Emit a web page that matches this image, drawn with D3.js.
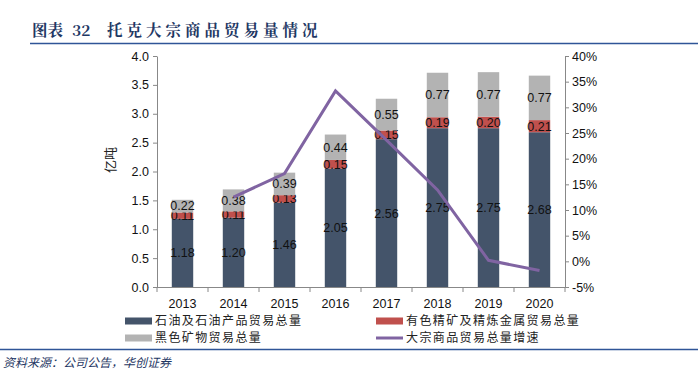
<!DOCTYPE html>
<html>
<head>
<meta charset="utf-8">
<script src="https://cdn.jsdelivr.net/npm/d3@7"></script>
<style>
  body { margin: 0; background: #fff; }
  svg text { font-family: "Liberation Sans", "Noto Sans CJK SC", sans-serif; }
</style>
</head>
<body>
<div id="chart"></div>
<script>
// data
const years = ["2013", "2014", "2015", "2016", "2017", "2018", "2019", "2020"];
const oil = [1.18, 1.20, 1.46, 2.05, 2.56, 2.75, 2.75, 2.68];
const metals = [0.11, 0.11, 0.13, 0.15, 0.15, 0.19, 0.20, 0.21];
const ferrous = [0.22, 0.38, 0.39, 0.44, 0.55, 0.77, 0.77, 0.77];
const growthYears = ["2014", "2015", "2016", "2017", "2018", "2019", "2020"];
const growth = [12.5, 17.1, 33.2, 23.6, 13.9, 0.2, -1.8];
const leftTicks = [0, 0.5, 1, 1.5, 2, 2.5, 3, 3.5, 4];
const rightTicks = [-5, 0, 5, 10, 15, 20, 25, 30, 35, 40];

const W = 698, H = 377;
const svg = d3.select("#chart").append("svg")
    .attr("width", W)
    .attr("height", H);

// title
const titleParts = [
    { t: "图表", x: 32, ls: 0 },
    { t: "32", x: 72, ls: 0 },
    { t: "托克大宗商品贸易量情况", x: 107, ls: 4 }
];
titleParts.forEach(p => {
    svg.append("text")
        .attr("x", p.x).attr("y", 36)
        .attr("fill", "#1f3864")
        .attr("font-size", "15.5px")
        .attr("font-weight", "bold")
        .attr("letter-spacing", p.ls)
        .style("font-family", "'Noto Serif CJK SC', 'Liberation Serif', 'Noto Sans CJK SC', serif")
        .text(p.t);
});
svg.append("line")
    .attr("x1", 30).attr("x2", W).attr("y1", 43.5).attr("y2", 43.5)
    .attr("stroke", "#2f5597").attr("stroke-width", 1.5);

const x0 = 157, x1 = 565, yTop = 56, yBot = 287;

const xScale = d3.scaleBand().domain(years).range([x0, x1]).paddingInner(0.58).paddingOuter(0.29);
const yScale = d3.scaleLinear().domain([0, 4]).range([yBot, yTop]);
const yRight = d3.scaleLinear().domain([-5, 40]).range([yBot, yTop]);
const xCenter = d => xScale(d) + xScale.bandwidth() / 2;

// stacked bars
const rows = years.map((y, i) => ({ year: y, oil: oil[i], metals: metals[i], ferrous: ferrous[i] }));
const keys = ["oil", "metals", "ferrous"];
const colors = { oil: "#44546a", metals: "#c0504d", ferrous: "#b3b3b3" };
const stack = d3.stack().keys(keys)(rows);

stack.forEach(layer => {
    svg.append("g").selectAll("rect")
        .data(layer)
        .enter()
        .append("rect")
        .attr("x", d => xScale(d.data.year))
        .attr("width", xScale.bandwidth())
        .attr("y", d => yScale(d[1]))
        .attr("height", d => yScale(d[0]) - yScale(d[1]))
        .attr("fill", colors[layer.key]);

    svg.append("g").selectAll("text")
        .data(layer)
        .enter()
        .append("text")
        .attr("x", d => xCenter(d.data.year))
        .attr("y", d => yScale((d[0] + d[1]) / 2) + 4.5 + (layer.key === "ferrous" && d.data.ferrous < 0.3 ? -1 : 0))
        .attr("text-anchor", "middle")
        .attr("font-size", "12.5px")
        .attr("fill", "#111")
        .text(d => d.data[layer.key].toFixed(2));
});

// axes
const axisColor = "#888";
const gl = svg.append("g")
    .attr("transform", "translate(" + x0 + ",0)")
    .call(d3.axisLeft(yScale).tickValues(leftTicks).tickFormat(d3.format(".1f")).tickSize(4).tickSizeOuter(0));
const gr = svg.append("g")
    .attr("transform", "translate(" + x1 + ",0)")
    .call(d3.axisRight(yRight).tickValues(rightTicks).tickFormat(d => d + "%").tickSize(4).tickSizeOuter(0));
[gl, gr].forEach(g => {
    g.selectAll("path, line").attr("stroke", axisColor);
    g.selectAll("text").attr("font-size", "12.5px").attr("fill", "#111")
        .style("font-family", "'Liberation Sans', sans-serif");
});
gr.selectAll("text").attr("x", 7);
gl.selectAll("text").attr("x", -8);

// x axis
svg.append("line")
    .attr("x1", x0).attr("x2", x1).attr("y1", yBot + 0.5).attr("y2", yBot + 0.5)
    .attr("stroke", axisColor);
svg.append("g").selectAll("line")
    .data(d3.range(years.length + 1))
    .enter()
    .append("line")
    .attr("x1", i => x0 + i * (x1 - x0) / years.length)
    .attr("x2", i => x0 + i * (x1 - x0) / years.length)
    .attr("y1", yBot).attr("y2", yBot + 5)
    .attr("stroke", axisColor);
svg.append("g").selectAll("text")
    .data(years)
    .enter()
    .append("text")
    .attr("x", d => xCenter(d))
    .attr("y", 307.5)
    .attr("text-anchor", "middle")
    .attr("font-size", "12.5px")
    .attr("fill", "#111")
    .text(d => d);

// y label
svg.append("text")
    .attr("transform", "translate(115,160) rotate(-90)")
    .attr("text-anchor", "middle")
    .attr("font-size", "13px")
    .attr("fill", "#222")
    .style("font-family", "'Noto Sans CJK SC', sans-serif")
    .text("亿吨");

// growth line
const line = d3.line()
    .x((d, i) => xCenter(growthYears[i]))
    .y(d => yRight(d));
svg.append("path")
    .datum(growth)
    .attr("d", line)
    .attr("fill", "none")
    .attr("stroke", "#8064a2")
    .attr("stroke-width", 3);

// legend
const legend = [
    { label: "石油及石油产品贸易总量", color: colors.oil, type: "rect", x: 125, y: 321 },
    { label: "有色精矿及精炼金属贸易总量", color: colors.metals, type: "rect", x: 376, y: 321 },
    { label: "黑色矿物贸易总量", color: colors.ferrous, type: "rect", x: 125, y: 338 },
    { label: "大宗商品贸易总量增速", color: "#8064a2", type: "line", x: 376, y: 338 }
];
legend.forEach(l => {
    if (l.type === "rect") {
        svg.append("rect").attr("x", l.x).attr("y", l.y - 3.5).attr("width", 27).attr("height", 7).attr("fill", l.color);
    } else {
        svg.append("line").attr("x1", l.x).attr("x2", l.x + 27).attr("y1", l.y).attr("y2", l.y)
            .attr("stroke", l.color).attr("stroke-width", 3);
    }
    svg.append("text")
        .attr("x", l.x + 30).attr("y", l.y + 4.3)
        .attr("font-size", "12px")
        .attr("letter-spacing", 1.4)
        .attr("fill", "#222")
        .style("font-family", "'Noto Sans CJK SC', sans-serif")
        .text(l.label);
});

// source
svg.append("line")
    .attr("x1", 0).attr("x2", W).attr("y1", 349.5).attr("y2", 349.5)
    .attr("stroke", "#2f5597").attr("stroke-width", 1.5);
svg.append("text")
    .attr("x", 3).attr("y", 367)
    .attr("font-size", "12px")
    .attr("font-style", "italic")
    .attr("fill", "#1f3864")
    .style("font-family", "'Noto Sans CJK SC', sans-serif")
    .text("资料来源：公司公告，华创证券");
</script>
</body>
</html>
